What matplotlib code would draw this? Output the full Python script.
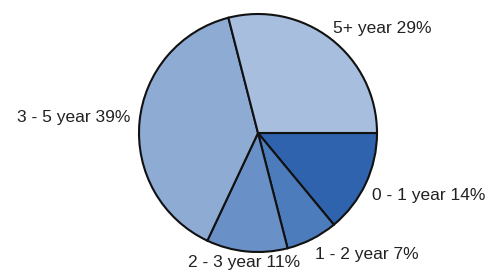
import matplotlib
matplotlib.use("Agg")
import matplotlib.pyplot as plt

# slice data, clockwise from 3 o'clock
labels = ["0 - 1 year", "1 - 2 year", "2 - 3 year", "3 - 5 year", "5+ year"]
shares = [14, 7, 11, 39, 29]
colors = ["#2f63ad", "#4d7cbd", "#6a90c8", "#8eabd4", "#a7bedf"]

# label anchors (in pie radii) and alignment
label_pos = [(0.958, -0.563, "left"), (0.479, -1.059, "left"),
             (-0.12, -1.13, "center"), (-1.076, 0.092, "right"),
             (0.63, 0.84, "left")]

plt.rcParams["font.family"] = ["Liberation Sans", "DejaVu Sans"]

W, H = 491, 271
cx, cy, R = 258, 133, 119
fig = plt.figure(figsize=(W / 100, H / 100), dpi=100)
ax = fig.add_axes([0, 0, 1, 1])

ax.pie(shares, colors=colors, startangle=0, counterclock=False,
       radius=1.0, wedgeprops=dict(edgecolor="#111111", linewidth=1.5))

for (lab, s), (x, y, ha) in zip(zip(labels, shares), label_pos):
    ax.text(x, y, f"{lab} {s}%", ha=ha, va="baseline",
            fontsize=12.5, color="#222222")

ax.set_aspect("equal")
ax.set_xlim(-cx / R, (W - cx) / R)
ax.set_ylim(-(H - cy) / R, cy / R)
ax.axis("off")

fig.savefig("out.png", dpi=100)
